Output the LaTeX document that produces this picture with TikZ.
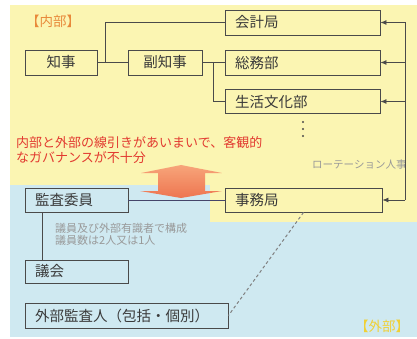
\documentclass[tikz,border=0pt]{standalone}
\usepackage{fontspec}
\setmainfont{Noto Sans CJK JP}
\usetikzlibrary{arrows.meta}
\definecolor{bgyellow}{HTML}{FBF5B2}
\definecolor{bgblue}{HTML}{CFE9F1}
\definecolor{boxline}{HTML}{4A4A4A}
\definecolor{boxtext}{HTML}{3A3A3A}
\definecolor{redtext}{HTML}{E23A30}
\definecolor{labinner}{HTML}{E8893A}
\definecolor{labouter}{HTML}{F0D035}
\definecolor{arrtop}{HTML}{F7A57A}
\definecolor{arrbot}{HTML}{EE7550}
\definecolor{linkline}{HTML}{45456A}
\begin{document}
\begin{tikzpicture}[x=1pt,y=-1pt,
  box/.style={draw=boxline, line width=0.9pt, inner sep=0pt, minimum height=25pt,
    font=\fontsize{14.5}{14.5}\selectfont, text=boxtext},
  lbox/.style={box, inner xsep=10pt, align=left},
  conn/.style={draw=boxline, line width=0.8pt},
  arr/.style={conn, -{Latex[length=6pt,width=5pt]}}]
\useasboundingbox (0,0) rectangle (417,339);
\fill[white] (0,0) rectangle (417,339);
\fill[bgyellow] (10,5) rectangle (417,185);
\fill[bgblue] (10,185) rectangle (417,337);
\fill[bgyellow] (210,184) rectangle (417,222);

% labels
\node[text=labinner, font=\fontsize{13.5}{13.5}\selectfont] (inner) at (53,21) {【内部】};
\node[text=labouter, font=\fontsize{13.5}{13.5}\selectfont] (outer) at (382,326) {【外部】};

% boxes
\node[box, minimum width=72pt] (chiji) at (61,62.5) {知事};
\node[box, minimum width=74pt] (fuku) at (165,62.5) {副知事};
\node[lbox, text width=135pt] (kaikei) at (302.5,22.5) {会計局};
\node[lbox, text width=135pt] (somu) at (302.5,62.5) {総務部};
\node[lbox, text width=135pt, minimum height=24pt] (seikatsu) at (302.5,101.5) {生活文化部};
\node[lbox, text width=137pt, minimum height=24pt] (jimu) at (303.5,200) {事務局};
\node[lbox, text width=83pt, minimum height=24pt] (kansa) at (76.5,200) {監査委員};
\node[lbox, text width=83pt, minimum height=23pt] (gikai) at (76.5,271.5) {議会};
\node[lbox, text width=183pt] (gaibu) at (126.5,315.5) {外部監査人（包括・個別）};

% dots
\foreach \yy in {122,129,136} \fill[boxline] (303,\yy) circle (1.2pt);

% texts
\node[anchor=west, text=black!40, font=\fontsize{10.5}{10.5}\selectfont, inner sep=0pt] (rot) at (312,165) {ローテーション人事};
\node[anchor=north west, align=left, text=redtext, font=\fontsize{13}{15.5}\selectfont, inner sep=0pt] (issue) at (16,136) {内部と外部の線引きがあいまいで、客観的\\なガバナンスが不十分};
\node[anchor=north west, align=left, text=black!40, font=\fontsize{11}{12}\selectfont, inner sep=0pt] (note) at (55,223) {議員及び外部有識者で構成\\議員数は2人又は1人};

% connectors inside
\coordinate (j1) at (105,62.5);
\coordinate (j2) at (213,62.5);
\draw[conn] (chiji.east) -- (fuku.west);
\draw[conn] (j1) |- (kaikei.west);
\draw[conn] (fuku.east) -- (somu.west);
\draw[conn] (j2) |- (seikatsu.west);

% rotation bus
\coordinate (bt) at (405,22.5);
\coordinate (bb) at (405,200);
\draw[conn] (bt) -- (bb);
\draw[arr] (bt) -- (kaikei.east);
\draw[arr] (bt |- somu.east) -- (somu.east);
\draw[arr] (bt |- seikatsu.east) -- (seikatsu.east);
\draw[arr] (bb) -- (jimu.east);

% orange double arrow
\shade[top color=arrtop, bottom color=arrbot]
  (181,165) -- (222,173) -- (205,173) -- (205,191) -- (222,191) -- (181,198)
  -- (140,191) -- (158,191) -- (158,173) -- (141,173) -- cycle;

% kansa - jimu link
\draw[draw=linkline, line width=0.9pt] (kansa.east) -- (jimu.west);

% kansa - gikai
\coordinate (v1) at (42,212);
\draw[conn] (v1) -- (v1 |- gikai.north);

% dashed jimu - gaibu
\draw[dashed, draw=black!50, line width=1pt, dash pattern=on 3pt off 2.5pt] (jimu.south) -- (gaibu.east);
\end{tikzpicture}
\end{document}
